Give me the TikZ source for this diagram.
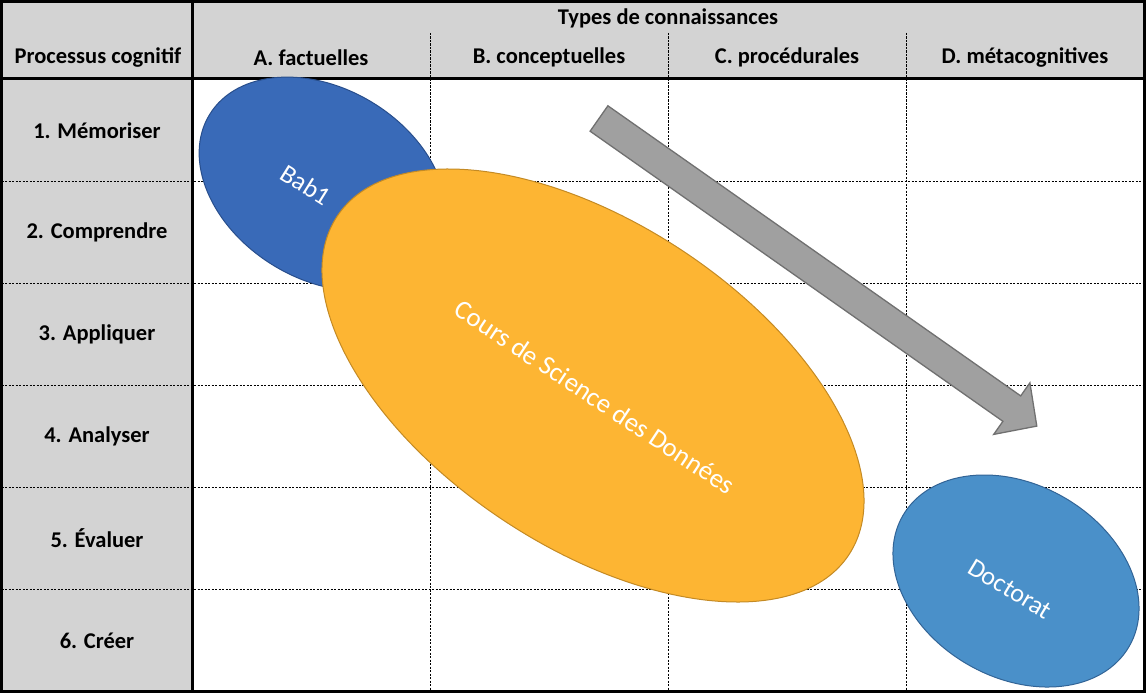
\documentclass[tikz,border=0pt]{standalone}
\usepackage{fontspec}
\setmainfont{Carlito}
\usetikzlibrary{shapes.geometric}
\definecolor{hdrgray}{RGB}{211,211,211}
\definecolor{babfill}{RGB}{57,106,184}
\definecolor{babline}{RGB}{40,78,140}
\definecolor{orfill}{RGB}{253,181,51}
\definecolor{orline}{RGB}{196,138,36}
\definecolor{docfill}{RGB}{74,144,201}
\definecolor{docline}{RGB}{50,100,150}
\definecolor{arrfill}{RGB}{160,160,160}
\definecolor{arrline}{RGB}{112,112,112}
\tikzset{
  gridline/.style={black, line width=0.9pt, dash pattern=on 2.2pt off 1.3pt},
  thickline/.style={black, line width=3pt},
  hdr/.style={font=\fontsize{22.5}{26}\selectfont\bfseries, inner sep=0pt},
  elltext/.style={font=\fontsize{26}{30}\selectfont, text=white, inner sep=0pt},
  blob/.style={ellipse, inner sep=0pt, line width=1pt},
  arrowshape/.style={fill=arrfill, draw=arrline, line width=1.3pt, line join=miter}
}
\begin{document}
\begin{tikzpicture}[x=1pt,y=-1pt]
\useasboundingbox (0,0) rectangle (1146,693);
% backgrounds
\fill[hdrgray] (0,0) rectangle (1146,79);
\fill[hdrgray] (0,79) rectangle (192,693);
% dashed grid
\foreach \yy in {181.1,283.2,385.3,487.3,589.4}
  \draw[gridline] (1.5,\yy) -- (1144.5,\yy);
\foreach \xx in {430.1,668.25,906.4}
  \draw[gridline] (\xx,33) -- (\xx,691.5);
% thick lines
\draw[thickline] (1.5,1.5) rectangle (1144.5,691.5);
\draw[thickline] (1.5,79) -- (1144.5,79);
\draw[thickline] (192,1.5) -- (192,691.5);
% header texts
\node[hdr] (types) at (668,18.5) {Types de connaissances};
\node[hdr] (proc) at (98,57.5) {Processus cognitif};
\node[hdr] (colA) at (311,57.5) {A. factuelles};
\node[hdr] (colB) at (549,57.5) {B. conceptuelles};
\node[hdr] (colC) at (787,57.5) {C. procédurales};
\node[hdr] (colD) at (1025,57.5) {D. métacognitives};
% row labels
\node[hdr] (r1) at (97,130.5) {1. Mémoriser};
\node[hdr] (r2) at (97,232.5) {2. Comprendre};
\node[hdr] (r3) at (97,334.5) {3. Appliquer};
\node[hdr] (r4) at (97,436.5) {4. Analyser};
\node[hdr] (r5) at (97,538.5) {5. Évaluer};
\node[hdr] (r6) at (97,640.5) {6. Créer};
% ellipses
\node[blob, fill=babfill, draw=babline, minimum width=266pt, minimum height=190.6pt, rotate=-31.5] (bab) at (323,184) {};
\node[elltext, rotate=-32] (babt) at (306,185) {Bab1};
\node[blob, fill=orfill, draw=orline, minimum width=613.6pt, minimum height=323.6pt, rotate=-33.5] (cours) at (593,385.5) {};
\node[elltext, font=\fontsize{26.8}{30}\selectfont, rotate=-33.5] (courst) at (595,397) {Cours de Science des Données};
\node[blob, fill=docfill, draw=docline, minimum width=261.4pt, minimum height=192.8pt, rotate=-30] (doc) at (1016,581) {};
\node[elltext, rotate=-31] (doct) at (1010,589) {Doctorat};
% arrow
\draw[arrowshape] (607.9,105.8) -- (1020.7,395.9) -- (1029.9,382.8) -- (1036.8,426.1)
  -- (993.7,434.4) -- (1002.9,421.3) -- (590.1,131.2) -- cycle;
\end{tikzpicture}
\end{document}
